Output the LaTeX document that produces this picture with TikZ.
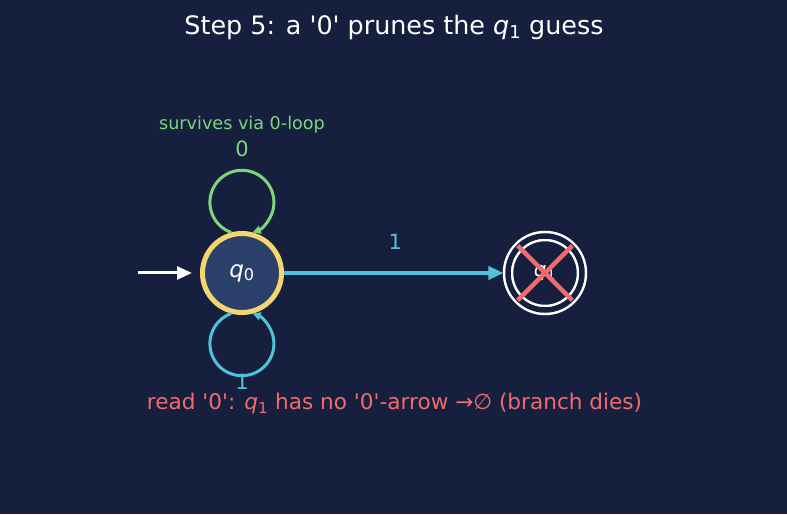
\documentclass[tikz,border=0pt]{standalone}
\usepackage{fontspec}
\newfontfamily\dejavu{DejaVu Sans}
\usetikzlibrary{arrows.meta,automata,positioning,calc}
\definecolor{bgnavy}{HTML}{16203E}
\definecolor{statefill}{HTML}{2B3F6B}
\definecolor{startgold}{HTML}{F5D56E}
\definecolor{loopgreen}{HTML}{7ED67B}
\definecolor{edgecyan}{HTML}{4EC3DA}
\definecolor{deadred}{HTML}{F06B6B}
\newcommand{\qq}[1]{{\itshape q}\textsubscript{#1}}
\newcommand{\fs}[1]{\fontsize{#1}{#1}\selectfont}

\begin{document}
\begin{tikzpicture}[x=1pt,y=1pt,font=\dejavu,node distance=303pt,
  >={Triangle[length=15pt,width=13pt]},
  every state/.style={draw=white,text=white,inner sep=0pt,minimum size=79pt,line width=5pt},
  lbl/.style={inner sep=0pt,font=\dejavu\fs{21}},
  loopline/.style={line width=3pt,-{Triangle[length=8pt,width=8pt]}},
  xmark/.style={deadred,line width=4.5pt}]
  \fill[bgnavy] (0,0) rectangle (787,514);
  \useasboundingbox (0,0) rectangle (787,514);
  \node[text=white,font=\dejavu\fs{25.4}] (title) at (394,487) {Step 5: a '0' prunes the \qq{1} guess};
  \node[state,draw=startgold,fill=statefill,font=\dejavu\fs{23}] (q0) at (242,241) {\qq{0}};
  \node[state,accepting,line width=2.5pt,double distance=5.5pt,double=bgnavy,minimum size=74pt,font=\dejavu\fs{20}] (q1) [right of=q0] {\qq{1}};
  \coordinate (init) at (138,241);
  \node[text=loopgreen,font=\dejavu\fs{17.6}] (note) at (242,389) {survives via 0-loop};
  \node[lbl,text=loopgreen] (lab0) at (242,365) {0};
  \node[lbl,text=edgecyan] (lab1) at (242,132) {1};
  \node[text=deadred,font=\dejavu\fs{21.6}] (dies) at (394.5,110) {read '0': \qq{1} has no '0'-arrow →∅ (branch dies)};
%
  \draw[white,line width=3pt,->,shorten >=8pt] (init) -- (q0);
  \draw[loopline,loopgreen] (q0.105) arc[start angle=250.3,end angle=-70.3,radius=32];
  \draw[loopline,edgecyan] (q0.-105) arc[start angle=109.7,end angle=430.3,radius=32];
  \draw[edgecyan,line width=3.5pt,->,shorten >=3pt] (q0) -- node[lbl,above=22pt] {1} (q1);
  \draw[xmark] (q1.135) -- (q1.-45);
  \draw[xmark] (q1.45) -- (q1.-135);
%
\end{tikzpicture}
\end{document}
